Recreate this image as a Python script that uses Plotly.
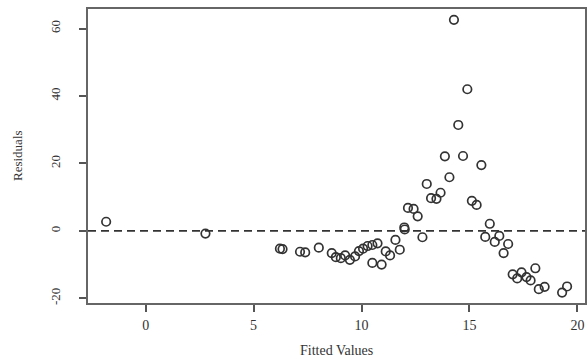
import plotly.graph_objects as go

fitted = [-1.83, 2.77, 6.22, 6.34, 7.15, 7.39, 8.02, 8.62, 8.81, 9.04, 9.24, 9.46, 9.70, 9.88,
          10.07, 10.28, 10.50, 10.74, 10.50, 10.93, 11.12, 11.32, 11.57, 11.77, 11.98, 12.00,
          12.15, 12.41, 12.60, 12.82, 13.02, 13.22, 13.47, 13.66, 13.86, 14.07, 14.28, 14.48,
          14.70, 14.90, 15.11, 15.33, 15.55, 15.73, 15.94, 16.17, 16.38, 16.58, 16.79, 17.00,
          17.21, 17.41, 17.64, 17.83, 18.05, 18.21, 18.48, 19.29, 19.52]
residuals = [2.7, -0.8, -5.3, -5.4, -6.2, -6.4, -5.0, -6.6, -7.8, -8.1, -7.3, -8.6, -7.6, -6.0,
             -5.3, -4.5, -4.2, -3.7, -9.5, -10.0, -6.1, -7.3, -2.7, -5.6, 1.0, 0.4,
             6.8, 6.5, 4.3, -1.9, 13.9, 9.7, 9.5, 11.3, 22.1, 15.9, 62.6, 31.4,
             22.2, 42.0, 8.9, 7.7, 19.5, -1.8, 2.1, -3.3, -1.5, -6.6, -3.9, -12.9,
             -14.1, -12.3, -13.7, -14.7, -11.1, -17.3, -16.6, -18.3, -16.5]
x_ticks = [0, 5, 10, 15, 20]
y_ticks = [-20, 0, 20, 40, 60]
x_title = "Fitted Values"
y_title = "Residuals"

ink = "#333333"
family = "Liberation Serif, Times New Roman, serif"
font = dict(family=family, size=13, color=ink)
xfont = dict(family=family, size=14, color=ink)

fig = go.Figure()
fig.add_trace(go.Scatter(
    x=fitted, y=residuals, mode="markers",
    marker=dict(symbol="circle-open", size=8.5, color=ink, line=dict(width=1.7, color=ink)),
    showlegend=False, hoverinfo="skip"))

fig.add_shape(type="line", xref="paper", yref="y", x0=0, x1=1, y0=0, y1=0,
              line=dict(color=ink, width=1.6, dash="8px,5px"))

fig.add_annotation(text=x_title, xref="paper", yref="paper", x=0.5, y=0,
                   yshift=-47, showarrow=False, font=xfont, yanchor="middle")
fig.add_annotation(text=y_title, xref="paper", yref="paper", x=0, y=0.5,
                   xshift=-71, showarrow=False, textangle=-90, font=font, xanchor="center")

fig.update_layout(
    width=587, height=358,
    margin=dict(l=88, r=2, t=9, b=55),
    paper_bgcolor="white", plot_bgcolor="white",
    font=font,
    xaxis=dict(range=[-2.67, 20.35], tickvals=x_ticks, ticktext=[str(v) for v in x_ticks],
               tickfont=xfont,
               ticks="outside", ticklen=7, tickwidth=2,
               tickcolor="#555", showline=True, linecolor="#666", linewidth=2, mirror=True,
               showgrid=False, zeroline=False, ticklabelstandoff=1, automargin=False),
    yaxis=dict(range=[-21.4, 65.8], tickvals=y_ticks, ticktext=[str(v) for v in y_ticks],
               ticks="outside", ticklen=7, tickwidth=2,
               tickcolor="#555", showline=True, linecolor="#666", linewidth=2, mirror=True,
               showgrid=False, zeroline=False, tickangle=-90, ticklabelstandoff=14,
               automargin=False),
)

fig.write_html("out.html", config={"displayModeBar": False},
               post_script="document.body.style.margin='0';document.body.style.overflow='hidden';")
